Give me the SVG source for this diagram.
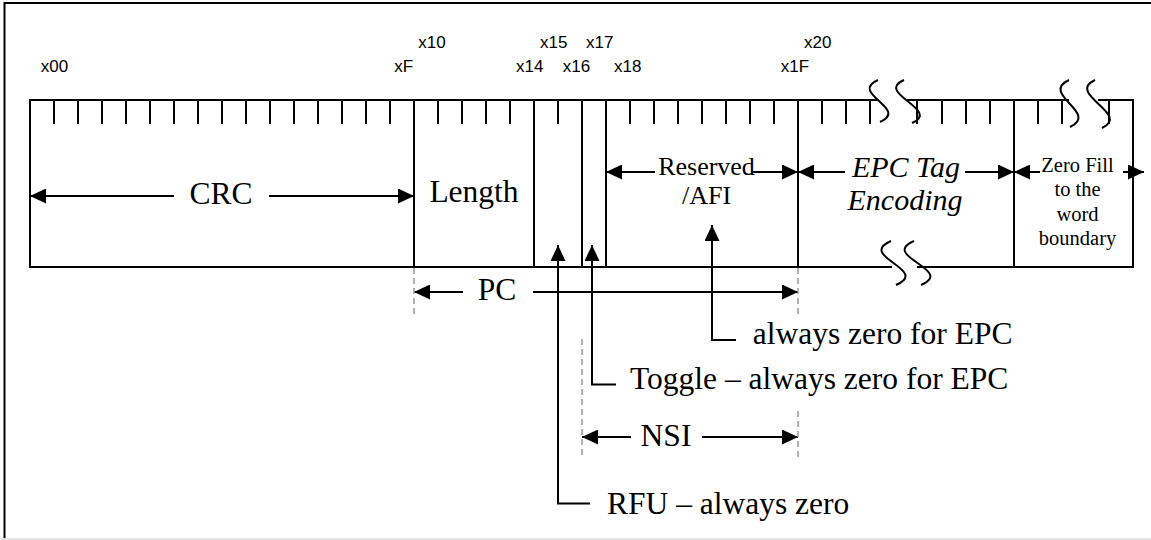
<svg xmlns="http://www.w3.org/2000/svg" width="1151" height="540" viewBox="0 0 1151 540">
<defs>
<style>
.frame{stroke:#000;stroke-width:2;fill:none}
.bar{stroke:#000;stroke-width:2;fill:none}
.tick{stroke:#000;stroke-width:2}
.sq{stroke:#000;stroke-width:2;fill:none}
.conn{stroke:#000;stroke-width:2;fill:none}
.dash{stroke:#999;stroke-width:1.5;stroke-dasharray:6 4;fill:none}
.lbl{font-family:"Liberation Sans",Arial,sans-serif;font-size:17px;fill:#000}
.big{font-family:"Liberation Serif","Times New Roman",serif;font-size:31.5px;fill:#000}
.mid{font-family:"Liberation Serif","Times New Roman",serif;font-size:26px;fill:#000}
.ital{font-family:"Liberation Serif","Times New Roman",serif;font-size:30px;font-style:italic;fill:#000}
.small{font-family:"Liberation Serif","Times New Roman",serif;font-size:20.5px;fill:#000}
</style>
<marker id="ah" markerUnits="userSpaceOnUse" markerWidth="16" markerHeight="15" refX="16" refY="7.5" orient="auto" viewBox="0 0 16 15">
<path d="M0,0 L16,7.5 L0,15 z" fill="#000"/>
</marker>
</defs>
<rect width="1151" height="540" fill="#fff"/>
<!-- frame -->
<line class="frame" x1="4" y1="3" x2="1151" y2="3"/>
<line class="frame" x1="4.5" y1="2" x2="4.5" y2="538"/>
<line x1="0" y1="539" x2="1151" y2="539" stroke="#e4e4e4" stroke-width="2"/>

<!-- bit labels -->
<g id="bit-labels">
<text class="lbl" x="40.7" y="72">x00</text>
<text class="lbl" x="394.3" y="72">xF</text>
<text class="lbl" x="418.3" y="48">x10</text>
<text class="lbl" x="516" y="72">x14</text>
<text class="lbl" x="540" y="48">x15</text>
<text class="lbl" x="562.7" y="72">x16</text>
<text class="lbl" x="586" y="48">x17</text>
<text class="lbl" x="614" y="72">x18</text>
<text class="lbl" x="780.7" y="72">x1F</text>
<text class="lbl" x="804" y="48">x20</text>
</g>

<!-- bar outline -->
<g id="bar">
<path class="bar" d="M879,100 H30 V267 H892"/>
<path class="bar" d="M907,100 H1069"/>
<path class="bar" d="M1098,100 H1133 V267 H917"/>
<path class="sq" d="M878,80 C848,93 910,109 880,122"/>
<path class="sq" d="M904,80 C874,93 942,110 912,123"/>
<path class="sq" d="M1069,80 C1039,94 1100,113 1070,127"/>
<path class="sq" d="M1095,80 C1065,94 1132,114 1102,128"/>
<path class="sq" d="M891,241 C856,256 931,270 896,285"/>
<path class="sq" d="M914,241 C879,256 956,270 921,285"/>
</g>

<g id="field-crc">
<path class="tick" d="M54,100V124M78,100V124M102,100V124M126,100V124M150,100V124M174,100V124M198,100V124M222,100V124M246,100V124M270,100V124M294,100V124M318,100V124M342,100V124M366,100V124M390,100V124"/>
<text class="big" x="221" y="204" text-anchor="middle">CRC</text>
</g>

<g id="field-length">
<line class="tick" x1="414" y1="100" x2="414" y2="267"/>
<path class="tick" d="M438,100V124M462,100V124M486,100V124M510,100V124"/>
<text class="big" x="474" y="202" text-anchor="middle">Length</text>
</g>

<g id="field-rfu">
<line class="tick" x1="534" y1="100" x2="534" y2="267"/>
<path class="tick" d="M558,100V124"/>
</g>

<g id="field-toggle">
<line class="tick" x1="582" y1="100" x2="582" y2="267"/>
<line class="tick" x1="606" y1="100" x2="606" y2="267"/>
</g>

<g id="field-reserved">
<path class="tick" d="M630,100V124M654,100V124M678,100V124M702,100V124M726,100V124M750,100V124M774,100V124"/>
<text class="mid" x="706.5" y="175" text-anchor="middle">Reserved</text>
<text class="mid" x="706.5" y="204" text-anchor="middle">/AFI</text>
</g>

<g id="field-epc">
<line class="tick" x1="798" y1="100" x2="798" y2="267"/>
<path class="tick" d="M822,100V124M846,100V124M870,100V124M917,100V124M942,100V124M966,100V124M990,100V124"/>
<text class="ital" x="906" y="177" text-anchor="middle">EPC Tag</text>
<text class="ital" x="905" y="210" text-anchor="middle">Encoding</text>
</g>

<g id="field-zerofill">
<line class="tick" x1="1014" y1="100" x2="1014" y2="267"/>
<path class="tick" d="M1038,100V124M1062,100V124M1109,100V124"/>
<text class="small" x="1077.5" y="172" text-anchor="middle">Zero Fill</text>
<text class="small" x="1077.5" y="196" text-anchor="middle">to the</text>
<text class="small" x="1077.5" y="220.5" text-anchor="middle">word</text>
<text class="small" x="1077.5" y="245" text-anchor="middle">boundary</text>
</g>

<g id="label-pc">
<text class="big" x="497" y="299.5" text-anchor="middle">PC</text>
</g>
<g id="label-nsi">
<text class="big" x="666" y="446" text-anchor="middle">NSI</text>
</g>
<g id="label-afi-note">
<text class="big" x="752.7" y="344">always zero for EPC</text>
</g>
<g id="label-toggle-note">
<text class="big" x="630" y="388.5">Toggle – always zero for EPC</text>
</g>
<g id="label-rfu-note">
<text class="big" x="607" y="513.5">RFU – always zero</text>
</g>

<g id="connectors">
<line class="conn" x1="174" y1="196" x2="30" y2="196" marker-end="url(#ah)"/>
<line class="conn" x1="269" y1="196" x2="414" y2="196" marker-end="url(#ah)"/>
<line class="conn" x1="655" y1="172" x2="606" y2="172" marker-end="url(#ah)"/>
<line class="conn" x1="753" y1="172" x2="798" y2="172" marker-end="url(#ah)"/>
<line class="conn" x1="845" y1="172" x2="798" y2="172" marker-end="url(#ah)"/>
<line class="conn" x1="965" y1="172" x2="1014" y2="172" marker-end="url(#ah)"/>
<line class="conn" x1="1040" y1="172" x2="1014" y2="172" marker-end="url(#ah)"/>
<line class="conn" x1="1123" y1="172" x2="1144" y2="172" marker-end="url(#ah)"/>
<line class="conn" x1="463" y1="292" x2="414" y2="292" marker-end="url(#ah)"/>
<line class="conn" x1="533" y1="292" x2="798" y2="292" marker-end="url(#ah)"/>
<line class="conn" x1="631" y1="437" x2="582" y2="437" marker-end="url(#ah)"/>
<line class="conn" x1="702" y1="437" x2="798" y2="437" marker-end="url(#ah)"/>
<path class="conn" d="M590,503.5 H558 V245" marker-end="url(#ah)"/>
<path class="conn" d="M616,384.5 H592 V245" marker-end="url(#ah)"/>
<path class="conn" d="M736,340 H712 V225" marker-end="url(#ah)"/>
<line class="dash" x1="414" y1="268" x2="414" y2="316"/>
<line class="dash" x1="798" y1="268" x2="798" y2="316"/>
<line class="dash" x1="582" y1="339" x2="582" y2="459"/>
<line class="dash" x1="798" y1="411" x2="798" y2="460"/>
</g>
</svg>
